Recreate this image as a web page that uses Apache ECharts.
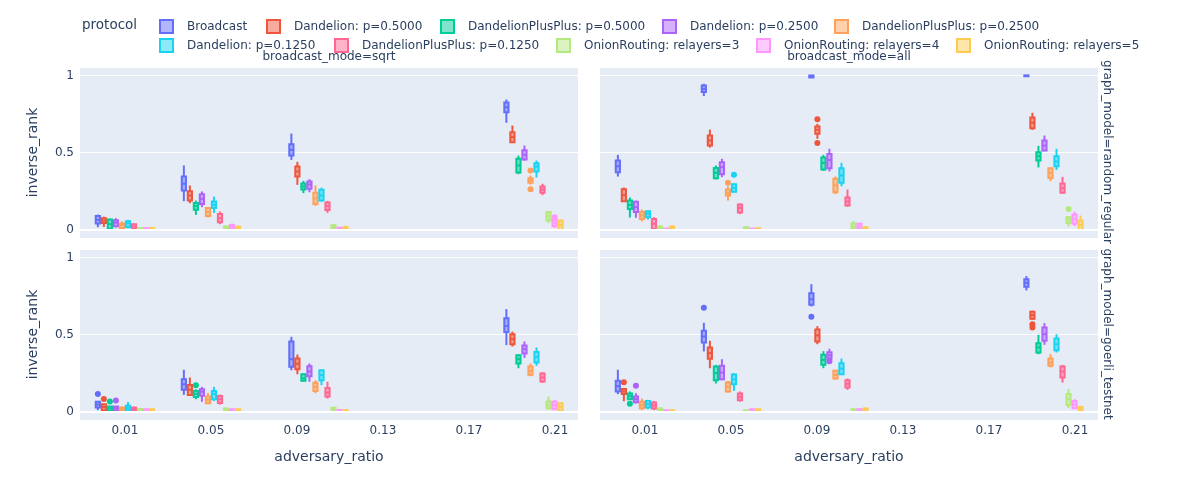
<!DOCTYPE html>
<html>
<head>
<meta charset="utf-8">
<script src="https://cdn.jsdelivr.net/npm/echarts@6/dist/echarts.min.js"></script>
<style>
html,body{margin:0;padding:0;background:#fff}
#chart{width:1200px;height:500px}
</style>
</head>
<body>
<div id="chart"></div>
<script>
// adversary_ratio groups and ticks
var groups = [0.01, 0.05, 0.1, 0.2];
var xTicks = [0.01, 0.05, 0.09, 0.13, 0.17, 0.21];
var yTicks = [0, 0.5, 1];

var protocols = ['Broadcast', 'Dandelion: p=0.5000', 'DandelionPlusPlus: p=0.5000', 'Dandelion: p=0.2500',
	'DandelionPlusPlus: p=0.2500', 'Dandelion: p=0.1250', 'DandelionPlusPlus: p=0.1250',
	'OnionRouting: relayers=3', 'OnionRouting: relayers=4', 'OnionRouting: relayers=5'];

// box stats [min, q1, median, q3, max], one row per protocol, one entry per group
var sqrtRandom = [
	[[0.015,0.039,0.063,0.087,0.097],[0.184,0.253,0.297,0.344,0.416],[0.452,0.481,0.517,0.554,0.623],[0.693,0.762,0.794,0.825,0.844]],
	[[0.017,0.043,0.058,0.074,0.084],[0.171,0.188,0.221,0.249,0.286],[0.29,0.344,0.377,0.409,0.439],[0.563,0.567,0.6,0.632,0.675]],
	[[0,0.005,0.035,0.065,0.071],[0.095,0.128,0.152,0.173,0.188],[0.236,0.26,0.279,0.299,0.316],[0.359,0.37,0.416,0.459,0.48]],
	[[0.013,0.022,0.045,0.06,0.074],[0.145,0.165,0.199,0.229,0.247],[0.242,0.264,0.292,0.312,0.327],[0.448,0.455,0.485,0.515,0.545]],
	[[0.004,0.01,0.03,0.039,0.054],[0.078,0.087,0.113,0.139,0.145],[0.154,0.165,0.203,0.238,0.286],[0.292,0.303,0.318,0.333,0.35]],
	[[0.006,0.017,0.04,0.054,0.063],[0.108,0.139,0.16,0.182,0.214],[0.182,0.188,0.221,0.258,0.271],[0.338,0.377,0.409,0.431,0.448]],
	[[0,0.004,0.02,0.035,0.039],[0.035,0.048,0.074,0.1,0.117],[0.108,0.126,0.152,0.175,0.186],[0.223,0.238,0.26,0.279,0.297]],
	[[0,0.001,0.005,0.009,0.013],[0,0.003,0.01,0.02,0.026],[0,0.005,0.015,0.028,0.035],[0.041,0.058,0.087,0.113,0.117]],
	[[0,0,0.004,0.009,0.012],[0,0.005,0.015,0.03,0.039],[0,0.002,0.006,0.012,0.017],[0.009,0.022,0.045,0.063,0.065]],
	[[0,0.001,0.005,0.01,0.015],[0,0.003,0.01,0.018,0.026],[0,0.002,0.008,0.015,0.026],[0,0,0.03,0.058,0.063]]
];
var allRandom = [
	[[0.344,0.372,0.411,0.448,0.485],[0.866,0.892,0.913,0.935,0.946],[0.985,0.987,0.995,1,1],[0.993,0.995,0.998,1,1]],
	[[0.18,0.184,0.223,0.262,0.273],[0.532,0.545,0.578,0.61,0.649],[0.589,0.621,0.647,0.669,0.686],[0.647,0.658,0.693,0.727,0.758]],
	[[0.078,0.134,0.16,0.188,0.208],[0.325,0.333,0.368,0.4,0.416],[0.381,0.39,0.433,0.468,0.485],[0.403,0.448,0.476,0.502,0.543]],
	[[0.076,0.113,0.145,0.18,0.188],[0.34,0.359,0.405,0.437,0.459],[0.377,0.398,0.452,0.491,0.524],[0.509,0.513,0.545,0.578,0.61]],
	[[0.052,0.069,0.091,0.113,0.13],[0.188,0.221,0.238,0.26,0.281],[0.229,0.242,0.286,0.329,0.344],[0.314,0.335,0.368,0.398,0.405]],
	[[0.065,0.08,0.102,0.119,0.123],[0.24,0.245,0.27,0.294,0.3],[0.281,0.303,0.351,0.398,0.433],[0.387,0.411,0.442,0.476,0.524]],
	[[0,0.004,0.037,0.069,0.08],[0.1,0.11,0.14,0.162,0.169],[0.149,0.156,0.182,0.208,0.26],[0.236,0.238,0.268,0.299,0.342]],
	[[0,0.003,0.01,0.02,0.026],[0,0.002,0.008,0.015,0.02],[0,0.004,0.02,0.039,0.056],[0.019,0.043,0.065,0.08,0.087]],
	[[0,0.001,0.003,0.006,0.009],[0,0.001,0.003,0.006,0.009],[0,0.003,0.02,0.037,0.045],[0.022,0.037,0.067,0.097,0.117]],
	[[0,0.002,0.01,0.02,0.026],[0,0.001,0.004,0.008,0.01],[0,0.002,0.008,0.015,0.02],[0,0,0.03,0.058,0.091]]
];
var sqrtGoerli = [
	[[0.009,0.026,0.045,0.063,0.069],[0.108,0.141,0.177,0.21,0.271],[0.268,0.29,0.34,0.455,0.485],[0.431,0.517,0.556,0.606,0.665]],
	[[0,0.009,0.03,0.048,0.05],[0.104,0.108,0.141,0.173,0.221],[0.242,0.275,0.31,0.344,0.37],[0.422,0.437,0.47,0.502,0.519]],
	[[0,0.004,0.02,0.032,0.035],[0.08,0.095,0.115,0.134,0.145],[0.195,0.199,0.216,0.242,0.247],[0.281,0.312,0.34,0.366,0.372]],
	[[0,0.006,0.022,0.032,0.035],[0.063,0.102,0.128,0.145,0.16],[0.193,0.229,0.26,0.294,0.312],[0.348,0.377,0.405,0.429,0.455]],
	[[0.004,0.01,0.02,0.026,0.03],[0.048,0.054,0.076,0.097,0.121],[0.119,0.134,0.16,0.186,0.203],[0.229,0.238,0.264,0.292,0.312]],
	[[0,0.006,0.022,0.037,0.061],[0.069,0.08,0.113,0.134,0.16],[0.171,0.203,0.236,0.268,0.273],[0.297,0.318,0.355,0.387,0.416]],
	[[0,0.006,0.017,0.026,0.03],[0.045,0.056,0.08,0.1,0.11],[0.084,0.097,0.123,0.152,0.193],[0.186,0.195,0.221,0.247,0.255]],
	[[0,0.002,0.008,0.017,0.022],[0,0.003,0.01,0.02,0.026],[0,0.004,0.014,0.024,0.03],[0.011,0.022,0.043,0.065,0.097]],
	[[0,0.001,0.007,0.015,0.02],[0,0.002,0.008,0.015,0.02],[0,0.002,0.006,0.01,0.015],[0.011,0.015,0.041,0.063,0.076]],
	[[0,0.001,0.007,0.015,0.02],[0,0.002,0.008,0.015,0.02],[0,0.001,0.004,0.009,0.013],[0,0.006,0.03,0.054,0.058]]
];
var allGoerli = [
	[[0.113,0.13,0.165,0.199,0.271],[0.39,0.448,0.487,0.524,0.576],[0.682,0.693,0.729,0.768,0.827],[0.786,0.81,0.835,0.859,0.879]],
	[[0.067,0.113,0.13,0.147,0.152],[0.281,0.342,0.379,0.416,0.459],[0.437,0.455,0.494,0.532,0.554],[0.595,0.602,0.626,0.647,0.655]],
	[[0.08,0.08,0.1,0.117,0.13],[0.182,0.203,0.249,0.292,0.303],[0.281,0.303,0.335,0.368,0.392],[0.372,0.383,0.416,0.444,0.498]],
	[[0.052,0.061,0.08,0.097,0.119],[0.203,0.21,0.253,0.297,0.34],[0.345,0.345,0.365,0.385,0.407],[0.433,0.459,0.502,0.545,0.574]],
	[[0.009,0.022,0.043,0.063,0.084],[0.123,0.13,0.16,0.188,0.199],[0.208,0.214,0.238,0.264,0.271],[0.286,0.297,0.318,0.344,0.372]],
	[[0.015,0.026,0.048,0.069,0.076],[0.134,0.177,0.208,0.24,0.249],[0.238,0.242,0.279,0.314,0.344],[0.383,0.398,0.437,0.474,0.502]],
	[[0.009,0.019,0.039,0.058,0.069],[0.065,0.074,0.095,0.117,0.13],[0.141,0.156,0.18,0.203,0.214],[0.188,0.221,0.26,0.292,0.303]],
	[[0,0.003,0.01,0.02,0.026],[0,0.001,0.004,0.008,0.01],[0,0.003,0.008,0.015,0.02],[0.022,0.043,0.08,0.113,0.147]],
	[[0,0.001,0.004,0.008,0.011],[0,0.002,0.008,0.015,0.02],[0,0.002,0.008,0.015,0.02],[0.015,0.022,0.045,0.069,0.08]],
	[[0,0.001,0.004,0.008,0.011],[0,0.002,0.008,0.015,0.022],[0,0.002,0.01,0.02,0.026],[0,0.006,0.02,0.03,0.037]]
];

// outliers: [protocol index, group index, value]
var sqrtRandomOut = [[4,3,0.383],[4,3,0.262],[8,3,0.08]];
var allRandomOut = [[1,2,0.716],[1,2,0.561],[4,1,0.303],[5,1,0.355],[7,3,0.134]];
var sqrtGoerliOut = [[0,0,0.113],[1,0,0.082],[2,0,0.065],[3,0,0.071],[2,1,0.171]];
var allGoerliOut = [[0,1,0.673],[0,2,0.615],[1,0,0.19],[2,0,0.05],[3,0,0.167],[3,2,0.327],[1,3,0.567],[1,3,0.545]];

var colors = ['#636efa','#EF553B','#00cc96','#ab63fa','#FFA15A','#19d3f3','#FF6692','#B6E880','#FF97FF','#FECB52'];
var FONT = 'DejaVu Sans';
var TXT = '#2a3f5f';
var BG = '#E5ECF6';
var SLOT = 0.0028;   // width of one trace slot inside a group (x units)
var BOXFRAC = 0.7;

function fade(hex){
	var n = parseInt(hex.slice(1), 16);
	return 'rgba(' + (n >> 16 & 255) + ',' + (n >> 8 & 255) + ',' + (n & 255) + ',0.5)';
}

var panels = [
	{stats: sqrtRandom, out: sqrtRandomOut, grid: {left: 80, top: 67, width: 498, height: 171}, yLab: true, xLab: false},
	{stats: allRandom, out: allRandomOut, grid: {left: 600, top: 67, width: 498, height: 171}, yLab: false, xLab: false},
	{stats: sqrtGoerli, out: sqrtGoerliOut, grid: {left: 80, top: 249, width: 498, height: 171}, yLab: true, xLab: true},
	{stats: allGoerli, out: allGoerliOut, grid: {left: 600, top: 249, width: 498, height: 171}, yLab: false, xLab: true}
];

function makeRender(k, outs){
	return function(params, api){
		var x = api.value(0);
		var slot = api.size([SLOT, 0])[0];
		var cx = api.coord([x, 0])[0] + (k - 4.5) * slot;
		var hw = slot * BOXFRAC / 2;
		var y = [1, 2, 3, 4, 5].map(function(d){ return api.coord([x, api.value(d)])[1]; });
		var c = colors[k];
		var ch = [
			{type: 'line', shape: {x1: cx, y1: y[4], x2: cx, y2: y[3]}, style: {stroke: c, lineWidth: 2}},
			{type: 'line', shape: {x1: cx, y1: y[1], x2: cx, y2: y[0]}, style: {stroke: c, lineWidth: 2}},
			{type: 'rect', shape: {x: cx - hw, y: y[3], width: hw * 2, height: y[1] - y[3]}, style: {fill: fade(c), stroke: c, lineWidth: 2}},
			{type: 'line', shape: {x1: cx - hw, y1: y[2], x2: cx + hw, y2: y[2]}, style: {stroke: c, lineWidth: 2}}
		];
		outs.forEach(function(o){
			if (o[0] === k && o[1] === params.dataIndex) {
				ch.push({type: 'circle', shape: {cx: cx, cy: api.coord([x, o[2]])[1], r: 3}, style: {fill: c}});
			}
		});
		return {type: 'group', children: ch};
	};
}

var grids = [], xAxes = [], yAxes = [], series = [];
panels.forEach(function(p, gi){
	grids.push(Object.assign({backgroundColor: BG, show: true, borderWidth: 0}, p.grid));
	xAxes.push({
		type: 'value', gridIndex: gi, min: -0.0109, max: 0.2207,
		axisLine: {show: false}, axisTick: {show: false}, splitLine: {show: false},
		axisLabel: {show: p.xLab, customValues: xTicks, color: TXT, fontFamily: FONT, fontSize: 12, margin: 5,
			formatter: function(v){ return v.toFixed(2); }},
		name: p.xLab ? 'adversary_ratio' : '', nameLocation: 'middle', nameGap: 30,
		nameTextStyle: {color: TXT, fontFamily: FONT, fontSize: 14}
	});
	yAxes.push({
		type: 'value', gridIndex: gi, min: -0.055, max: 1.055, splitNumber: 2,
		axisLine: {show: false}, axisTick: {show: false},
		splitLine: {lineStyle: {color: '#fff', width: 1}},
		axisLabel: {show: p.yLab, customValues: yTicks, color: TXT, fontFamily: FONT, fontSize: 12, margin: 6},
		name: p.yLab ? 'inverse_rank' : '', nameLocation: 'middle', nameGap: 40,
		nameTextStyle: {color: TXT, fontFamily: FONT, fontSize: 14}
	});
	// zero line, drawn under the boxes
	series.push({
		type: 'line', xAxisIndex: gi, yAxisIndex: gi, data: [], z: 1, silent: true,
		markLine: {silent: true, symbol: 'none', label: {show: false}, animation: false,
			lineStyle: {color: '#fff', width: 2, type: 'solid'}, data: [{yAxis: 0}]}
	});
	protocols.forEach(function(name, k){
		series.push({
			type: 'custom', name: name, xAxisIndex: gi, yAxisIndex: gi, z: 3,
			itemStyle: {color: colors[k]},
			renderItem: makeRender(k, p.out),
			encode: {x: 0, y: [1, 2, 3, 4, 5]},
			data: groups.map(function(g, j){ return [g].concat(p.stats[k][j]); })
		});
	});
});

// legend entries placed like the reference's two wrapped rows
var legendSpots = [[159,26],[266,26],[440,26],[662,26],[834,26],[159,45],[334,45],[556,45],[756,45],[956,45]];
var legends = protocols.map(function(name, k){
	return {
		left: legendSpots[k][0], top: legendSpots[k][1] - 7, padding: 0,
		itemWidth: 13, itemHeight: 13, icon: 'rect',
		data: [{name: name, itemStyle: {color: fade(colors[k]), borderColor: colors[k], borderWidth: 2}}],
		textStyle: {color: TXT, fontFamily: FONT, fontSize: 12, padding: [0, 0, 0, 9]}
	};
});

var dom = echarts.init(document.getElementById('chart'));
var option = {
	animation: false,
	backgroundColor: '#fff',
	grid: grids,
	xAxis: xAxes,
	yAxis: yAxes,
	legend: legends,
	series: series,
	graphic: [
		{type: 'text', left: 82, top: 18, style: {text: 'protocol', fill: TXT, font: '13.5px "DejaVu Sans"'}},
		{type: 'text', x: 329, y: 57, style: {text: 'broadcast_mode=sqrt', fill: TXT, font: '12px "DejaVu Sans"', align: 'center', verticalAlign: 'middle'}},
		{type: 'text', x: 849, y: 57, style: {text: 'broadcast_mode=all', fill: TXT, font: '12px "DejaVu Sans"', align: 'center', verticalAlign: 'middle'}},
		{type: 'text', x: 1107, y: 152, rotation: -Math.PI / 2, style: {text: 'graph_model=random_regular', fill: TXT, font: '12px "DejaVu Sans"', align: 'center', verticalAlign: 'middle'}},
		{type: 'text', x: 1107, y: 334, rotation: -Math.PI / 2, style: {text: 'graph_model=goerli_testnet', fill: TXT, font: '12px "DejaVu Sans"', align: 'center', verticalAlign: 'middle'}}
	]
};
dom.setOption(option);
</script>
</body>
</html>
